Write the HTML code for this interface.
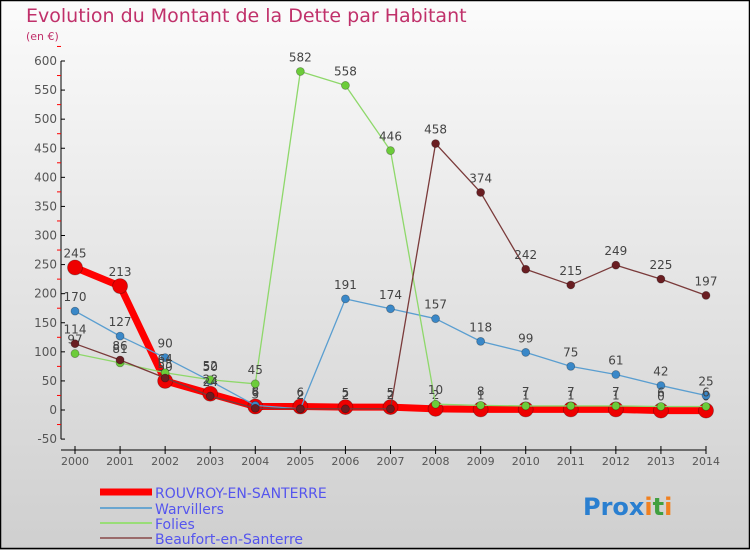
<!DOCTYPE html>
<html><head><meta charset="utf-8"><style>
body{margin:0;width:750px;height:550px;overflow:hidden}
svg{display:block;font-family:"DejaVu Sans","Liberation Sans",sans-serif}
</style></head><body>
<svg width="750" height="550" viewBox="0 0 750 550">
<defs><linearGradient id="bg" x1="0" y1="0" x2="0" y2="1"><stop offset="0" stop-color="#fbfbfb"/><stop offset="1" stop-color="#cfcfcf"/></linearGradient></defs>
<rect width="750" height="550" fill="url(#bg)"/>
<rect x="0.5" y="0.5" width="749" height="548" fill="none" stroke="#000" stroke-width="1.5"/>
<text x="26" y="22" font-size="19" fill="#c0306a">Evolution du Montant de la Dette par Habitant</text>
<text x="26" y="40" font-size="11" fill="#c0306a">(en €)</text>
<g id="axes"></g><g id="series"></g>
<g>
<line x1="100" y1="492" x2="152" y2="492" stroke="#f00" stroke-width="7"/>
<text x="155" y="498" font-size="14" fill="#5555ee">ROUVROY-EN-SANTERRE</text>
<line x1="100" y1="508" x2="152" y2="508" stroke="#6aa6d0" stroke-width="2"/>
<text x="155" y="514" font-size="14" fill="#5555ee">Warvillers</text>
<line x1="100" y1="523" x2="152" y2="523" stroke="#99dd77" stroke-width="2"/>
<text x="155" y="529" font-size="14" fill="#5555ee">Folies</text>
<line x1="100" y1="538" x2="152" y2="538" stroke="#9a6a6a" stroke-width="2"/>
<text x="155" y="544" font-size="14" fill="#5555ee">Beaufort-en-Santerre</text>
</g>
<text x="583" y="515" font-size="24" font-weight="bold"><tspan fill="#2a7fd0">Pro</tspan><tspan fill="#2a7fd0">x</tspan><tspan fill="#f08020">i</tspan><tspan fill="#40a040">t</tspan><tspan fill="#f08020">i</tspan></text>
</svg>
<script>
const years=[2000,2001,2002,2003,2004,2005,2006,2007,2008,2009,2010,2011,2012,2013,2014];
const yTicks=[-50,0,50,100,150,200,250,300,350,400,450,500,550,600];
const rouvroy=[245,213,50,28,6,6,5,5,2,1,1,1,1,-1,-1];
const warvillers=[170,127,90,50,8,2,191,174,157,118,99,75,61,42,25];
const folies=[97,81,64,52,45,582,558,446,10,8,7,7,7,6,6];
const beaufort=[114,86,55,24,3,2,2,2,458,374,242,215,249,225,197];
const NS='http://www.w3.org/2000/svg';
const x=i=>75+i*(706-75)/14;
const y=v=>410-v*(349/600);
function mk(t,a,p){const e=document.createElementNS(NS,t);for(const k in a)e.setAttribute(k,a[k]);p.appendChild(e);return e;}
const ax=document.getElementById('axes');
let l=mk('line',{x1:61,y1:y(600),x2:61,y2:y(-50),stroke:'#000'},ax);


l=mk('line',{x1:61,y1:450,x2:706,y2:450,stroke:'#000'},ax);


yTicks.forEach(v=>{
  mk('line',{x1:61,y1:y(v),x2:65,y2:y(v),stroke:'#000'},ax);
  mk('line',{x1:57,y1:y(v+25),x2:61,y2:y(v+25),stroke:'#f00'},ax);
  const t=mk('text',{x:57,y:y(v)+4,'font-size':12,'text-anchor':'end',fill:'#555'},ax);
  t.textContent=v;
  
  
});
years.forEach((yr,i)=>{
  mk('line',{x1:x(i),y1:446,x2:x(i),y2:454,stroke:'#000'},ax);
  const t=mk('text',{x:x(i),y:465,'font-size':11,'text-anchor':'middle',fill:'#555'},ax);
  t.textContent=yr;
  
  
});
const sg=document.getElementById('series');
const defs=[
 [warvillers,'#5a9ed0','#3a88c8',1.3,4,'warvillers'],
 [folies,'#8ed86a','#6ccc3a',1.3,4,'folies'],
 [beaufort,'#7a3a3a','#6a1e22',1.3,4,'beaufort'],
 [rouvroy,'#f00','#e00',7,7.5,'rouvroy']];
defs.reverse();
[defs[1],defs[2],defs[3],defs[0]].reverse();
const order=[defs[0],defs[3],defs[2],defs[1]];
order.forEach(([d,c,pc,w,r,n])=>{
  const g=mk('g',{},sg);
  
  
  const p=mk('polyline',{points:d.map((v,i)=>x(i)+','+y(v)).join(' '),fill:'none',stroke:c,'stroke-width':w,'stroke-linejoin':'round'},g);
  
  
  d.forEach((v,i)=>{
    const pt=mk('circle',{cx:x(i),cy:y(v),r:r,fill:pc,stroke:'rgba(0,0,0,0.3)','stroke-width':0.8},g);
    
    
    const t=mk('text',{x:x(i),y:y(v)-10,'font-size':12,'text-anchor':'middle',fill:'#444'},g);
    t.textContent=v<0?0:v;
    
    
  });
});
</script>
</body></html>
